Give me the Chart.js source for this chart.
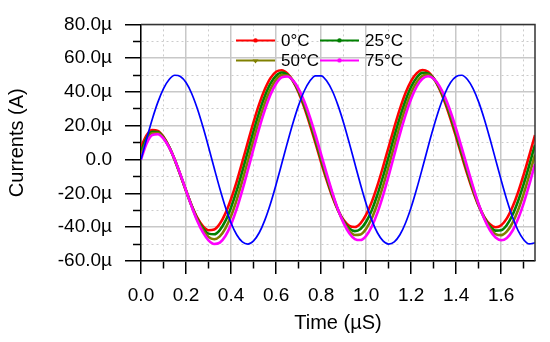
<!DOCTYPE html>
<html>
<head>
<meta charset="utf-8">
<script src="https://cdn.jsdelivr.net/npm/chart.js@4.4.0/dist/chart.umd.min.js"></script>
<style>
  html, body { margin: 0; padding: 0; background: #fff; }
  #wrap { width: 550px; height: 342px; }
</style>
</head>
<body>
<div id="wrap"><canvas id="currents"></canvas></div>
<script>
// time axis in microseconds, currents in microamps
const timeUs = [0, 0.025, 0.05, 0.075, 0.1, 0.125, 0.15, 0.175, 0.2, 0.225,
  0.25, 0.275, 0.3, 0.325, 0.35, 0.375, 0.4, 0.425, 0.45, 0.475,
  0.5, 0.525, 0.55, 0.575, 0.6, 0.625, 0.65, 0.675, 0.7, 0.725,
  0.75, 0.775, 0.8, 0.825, 0.85, 0.875, 0.9, 0.925, 0.95, 0.975,
  1.0, 1.025, 1.05, 1.075, 1.1, 1.125, 1.15, 1.175, 1.2, 1.225,
  1.25, 1.275, 1.3, 1.325, 1.35, 1.375, 1.4, 1.425, 1.45, 1.475,
  1.5, 1.525, 1.55, 1.575, 1.6, 1.625, 1.65, 1.675, 1.7, 1.725,
  1.75];

const refCurrent = [0, 12.3, 23.9, 34.0, 42.0, 47.4, 49.9, 49.2, 45.6, 39.1,
  30.2, 19.4, 7.5, -5.0, -17.1, -28.2, -37.5, -44.5, -48.7, -50.0,
  -48.1, -43.3, -35.8, -26.1, -14.7, -2.5, 9.9, 21.7, 32.1, 40.6,
  46.5, 49.6, 49.6, 46.5, 40.6, 32.1, 21.7, 9.9, -2.5, -14.7,
  -26.1, -35.8, -43.3, -48.1, -50.0, -48.7, -44.5, -37.5, -28.2, -17.1,
  -5.0, 7.5, 19.4, 30.2, 39.1, 45.6, 49.2, 49.9, 47.4, 42.0,
  34.0, 23.9, 12.3, 0, -12.3, -23.9, -34.0, -42.0, -47.4, -49.9,
  -49.2];

const current0C = [7.4, 14.5, 17.5, 17.0, 13.5, 7.6, -0.2, -9.2, -18.4, -27.1,
  -34.3, -39.3, -41.8, -41.4, -38.0, -31.8, -23.3, -13.0, -1.4, 10.5,
  22.2, 32.8, 41.6, 48.2, 52.0, 52.9, 51.0, 46.5, 39.7, 30.9,
  20.7, 9.7, -1.6, -12.3, -22.0, -30.0, -35.8, -39.2, -39.9, -37.7,
  -32.6, -25.0, -15.4, -4.3, 7.4, 19.1, 30.0, 39.4, 46.6, 51.2,
  53.0, 51.9, 48.1, 42.0, 33.8, 24.0, 13.2, 2.0, -8.9, -18.9,
  -27.5, -34.0, -38.3, -40.0, -38.8, -34.8, -28.1, -19.3, -8.8, 2.7,
  14.5];

const current25C = [4.9, 12.9, 16.5, 16.3, 13.1, 7.5, -0.2, -9.1, -18.4, -27.3,
  -35.0, -40.6, -43.8, -44.2, -41.7, -36.3, -28.3, -18.4, -7.0, 5.0,
  16.9, 28.0, 37.5, 44.9, 49.6, 51.5, 50.4, 46.6, 40.4, 32.1,
  22.2, 11.3, 0.0, -11.0, -21.2, -29.8, -36.4, -40.7, -42.3, -41.0,
  -36.8, -29.9, -20.8, -10.0, 1.7, 13.7, 25.0, 35.0, 43.1, 48.6,
  51.3, 51.0, 48.0, 42.5, 34.9, 25.4, 14.8, 3.6, -7.5, -17.9,
  -27.1, -34.4, -39.5, -42.0, -41.8, -38.7, -32.8, -24.5, -14.4, -3.1,
  8.8];

const current50C = [2.5, 11.2, 15.6, 15.7, 12.8, 7.3, -0.1, -8.9, -18.3, -27.5,
  -35.6, -41.8, -45.8, -47.1, -45.4, -40.7, -33.4, -23.8, -12.6, -0.6,
  11.7, 23.3, 33.4, 41.7, 47.3, 50.0, 49.8, 46.8, 41.2, 33.4,
  23.8, 12.9, 1.5, -9.8, -20.3, -29.7, -37.0, -42.1, -44.6, -44.3,
  -40.9, -34.7, -26.1, -15.6, -3.9, 8.2, 20.1, 30.7, 39.5, 45.9,
  49.5, 50.2, 47.9, 43.1, 35.9, 26.9, 16.5, 5.2, -6.2, -17.0,
  -26.8, -34.7, -40.6, -44.1, -44.7, -42.5, -37.4, -29.8, -20.1, -8.9,
  2.9];

const current75C = [0, 9.6, 14.6, 15.0, 12.4, 7.2, -0.1, -8.8, -18.3, -27.7,
  -36.3, -43.1, -47.8, -49.9, -49.1, -45.2, -38.4, -29.2, -18.2, -6.1,
  6.4, 18.5, 29.3, 38.4, 44.9, 48.6, 49.2, 46.9, 41.9, 34.6,
  25.3, 14.6, 3.1, -8.5, -19.5, -29.5, -37.6, -43.6, -47.0, -47.6,
  -45.1, -39.6, -31.5, -21.3, -9.6, 2.8, 15.1, 26.3, 36.0, 43.3,
  47.8, 49.3, 47.8, 43.6, 37.0, 28.3, 18.1, 6.8, -4.8, -16.0,
  -26.4, -35.1, -41.8, -46.1, -47.7, -46.4, -42.1, -35.0, -25.7, -14.7,
  -2.6];

const toPoints = vals => timeUs.map((t, i) => ({x: t, y: vals[i]}));

const isMajorX = v => Math.round(v * 10) % 2 === 0;
const isMajorY = v => Math.round(v) % 20 === 0;

const fontFamily = "'Liberation Sans', Arial, sans-serif";

// legend drawn inside plot, 2 x 2
const insideLegend = {
  id: 'insideLegend',
  afterDatasetsDraw(chart) {
    const ctx = chart.ctx;
    const ca = chart.chartArea;
    const items = chart.data.datasets.filter(d => d.inLegend);
    ctx.save();
    ctx.font = '17px ' + fontFamily;
    ctx.textBaseline = 'middle';
    ctx.textAlign = 'left';
    items.forEach((d, i) => {
      const col = i % 2, row = Math.floor(i / 2);
      const x = ca.left + 95 + col * 84;
      const y = ca.top + 16 + row * 20;
      ctx.strokeStyle = d.borderColor;
      ctx.fillStyle = d.borderColor;
      ctx.lineWidth = 2;
      ctx.beginPath();
      ctx.moveTo(x, y);
      ctx.lineTo(x + 39, y);
      ctx.stroke();
      const mx = x + 19.5;
      ctx.beginPath();
      if (d.legendMarker === 'triangle') {
        ctx.moveTo(mx - 3, y - 1);
        ctx.lineTo(mx + 3, y - 1);
        ctx.lineTo(mx, y + 3);
        ctx.closePath();
      } else {
        ctx.arc(mx, y, 2.2, 0, Math.PI * 2);
      }
      ctx.fill();
      ctx.fillStyle = '#000';
      ctx.fillText(d.label, x + 45, y + 1);
    });
    ctx.restore();
  }
};

// top and right edges of the frame
const frameBox = {
  id: 'frameBox',
  afterDatasetsDraw(chart) {
    const ctx = chart.ctx;
    const ca = chart.chartArea;
    ctx.save();
    ctx.strokeStyle = '#333';
    ctx.lineWidth = 1.5;
    ctx.beginPath();
    ctx.moveTo(ca.left, ca.top);
    ctx.lineTo(ca.right, ca.top);
    ctx.lineTo(ca.right, ca.bottom);
    ctx.stroke();
    ctx.restore();
  }
};

const currentChart = new Chart(document.getElementById('currents'), {
  type: 'line',
  data: {
    datasets: [
      { label: 'Input', data: toPoints(refCurrent), borderColor: '#0000ff', borderWidth: 1.7, order: 0 },
      { label: '0°C', data: toPoints(current0C), borderColor: '#ff0000', borderWidth: 2.6, order: 4, inLegend: true },
      { label: '25°C', data: toPoints(current25C), borderColor: '#008000', borderWidth: 2.6, order: 3, inLegend: true },
      { label: '50°C', data: toPoints(current50C), borderColor: '#808000', borderWidth: 2.6, order: 2, inLegend: true, legendMarker: 'triangle' },
      { label: '75°C', data: toPoints(current75C), borderColor: '#ff00ff', borderWidth: 2.6, order: 1, inLegend: true }
    ]
  },
  options: {
    responsive: true,
    maintainAspectRatio: false,
    animation: false,
    layout: { padding: { top: 16, right: 15, bottom: 0, left: 0 } },
    elements: {
      point: { radius: 0, hoverRadius: 0 },
      line: { fill: false, cubicInterpolationMode: 'monotone' }
    },
    plugins: {
      legend: { display: false },
      tooltip: { enabled: false }
    },
    scales: {
      x: {
        type: 'linear',
        min: 0,
        max: 1.75,
        afterFit: s => { s.height = 81; },
        ticks: {
          stepSize: 0.1,
          includeBounds: false,
          autoSkip: false,
          maxRotation: 0,
          padding: 10,
          color: '#000',
          font: { family: fontFamily, size: 19 },
          callback: v => isMajorX(v) ? v.toFixed(1) : ''
        },
        grid: {
          color: c => isMajorX(c.tick.value) ? '#c8c8c8' : '#cccccc',
          lineWidth: c => isMajorX(c.tick.value) ? 1.5 : 1,
          tickLength: 13,
          tickColor: '#000',
          tickWidth: 1.5,
          tickBorderDash: c => isMajorX(c.tick.value) ? [] : [7, 20]
        },
        border: {
          color: '#000',
          width: 1.5,
          dash: c => (c.tick && !isMajorX(c.tick.value)) ? [2, 3] : []
        },
        title: {
          display: true,
          text: 'Time (µS)',
          color: '#000',
          font: { family: fontFamily, size: 20 },
          padding: { top: 0, bottom: 7 }
        }
      },
      y: {
        min: -60,
        max: 80,
        afterFit: s => { s.width = 141; },
        ticks: {
          stepSize: 10,
          autoSkip: false,
          padding: 13,
          color: '#000',
          font: { family: fontFamily, size: 19 },
          callback: v => isMajorY(v) ? (v === 0 ? '0.0' : v.toFixed(1) + 'µ') : ''
        },
        grid: {
          color: c => isMajorY(c.tick.value) ? '#c8c8c8' : '#cccccc',
          lineWidth: c => isMajorY(c.tick.value) ? 1.5 : 1,
          tickLength: 16,
          tickColor: '#000',
          tickWidth: 1.5,
          tickBorderDash: c => isMajorY(c.tick.value) ? [] : [0, 8, 20]
        },
        border: {
          color: '#000',
          width: 1.5,
          dash: c => (c.tick && !isMajorY(c.tick.value)) ? [2, 3] : []
        },
        title: {
          display: true,
          text: 'Currents (A)',
          color: '#000',
          font: { family: fontFamily, size: 20 },
          padding: { top: 5, bottom: 0 }
        }
      }
    }
  },
  plugins: [insideLegend, frameBox]
});
</script>
</body>
</html>
